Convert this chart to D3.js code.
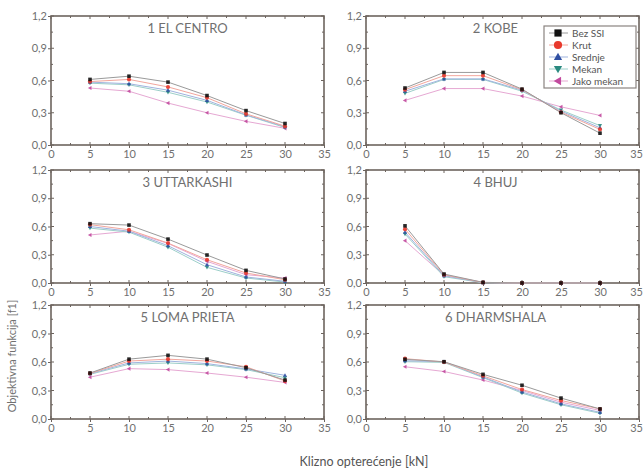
<!DOCTYPE html>
<html>
<head>
<meta charset="utf-8">
<script src="https://cdn.jsdelivr.net/npm/d3@7"></script>
<style>
  html, body { margin: 0; padding: 0; background: #fff; }
  svg { display: block; font-family: Lato, "Open Sans", sans-serif; }
</style>
</head>
<body>
<svg id="chart" width="643" height="471"></svg>
<script>
// Sliding load values (kN)
const loads = [5, 10, 15, 20, 25, 30];

// Soil-structure interaction cases
const seriesNames = ["Bez SSI", "Krut", "Srednje", "Mekan", "Jako mekan"];

// Earthquake records, one panel each
const quakes = ["1 EL CENTRO", "2 KOBE", "3 UTTARKASHI", "4 BHUJ", "5 LOMA PRIETA", "6 DHARMSHALA"];

// Objective function f1 per earthquake, per series (order of seriesNames)
const elCentro = [
  [0.61, 0.64, 0.585, 0.46, 0.32, 0.20],
  [0.59, 0.61, 0.54, 0.44, 0.29, 0.175],
  [0.585, 0.57, 0.51, 0.415, 0.28, 0.17],
  [0.575, 0.56, 0.49, 0.40, 0.277, 0.163],
  [0.53, 0.50, 0.39, 0.30, 0.22, 0.155]
];
const kobe = [
  [0.53, 0.675, 0.675, 0.52, 0.30, 0.11],
  [0.515, 0.645, 0.645, 0.515, 0.305, 0.145],
  [0.50, 0.615, 0.615, 0.51, 0.315, 0.16],
  [0.48, 0.61, 0.61, 0.50, 0.325, 0.18],
  [0.415, 0.525, 0.525, 0.455, 0.355, 0.275]
];
const uttarkashi = [
  [0.63, 0.615, 0.466, 0.297, 0.134, 0.042],
  [0.62, 0.565, 0.424, 0.247, 0.106, 0.035],
  [0.60, 0.55, 0.396, 0.194, 0.064, 0.018],
  [0.583, 0.54, 0.38, 0.166, 0.053, 0.01],
  [0.51, 0.55, 0.42, 0.23, 0.088, 0.053]
];
const bhuj = [
  [0.607, 0.095, 0.007, 0.0, 0.0, 0.0],
  [0.572, 0.088, 0.005, 0.0, 0.0, 0.0],
  [0.54, 0.078, 0.004, 0.0, 0.0, 0.0],
  [0.52, 0.067, 0.003, 0.0, 0.0, 0.0],
  [0.45, 0.08, 0.006, 0.0, 0.0, 0.0]
];
const lomaPrieta = [
  [0.484, 0.63, 0.67, 0.63, 0.54, 0.41],
  [0.48, 0.61, 0.63, 0.61, 0.55, 0.40],
  [0.477, 0.59, 0.61, 0.583, 0.527, 0.46],
  [0.47, 0.576, 0.59, 0.57, 0.52, 0.435],
  [0.44, 0.53, 0.52, 0.484, 0.44, 0.385]
];
const dharmshala = [
  [0.628, 0.603, 0.47, 0.355, 0.22, 0.106],
  [0.635, 0.60, 0.454, 0.31, 0.195, 0.106],
  [0.613, 0.603, 0.443, 0.284, 0.16, 0.07],
  [0.603, 0.596, 0.436, 0.273, 0.15, 0.06],
  [0.55, 0.50, 0.41, 0.30, 0.177, 0.09]
];
const panelValues = [elCentro, kobe, uttarkashi, bhuj, lomaPrieta, dharmshala];

// Axis ticks
const xTicks = [0, 5, 10, 15, 20, 25, 30, 35];
const yTicks = [0, 0.3, 0.6, 0.9, 1.2];

const yLabel = "Objektivna funkcija [f1]";
const xLabel = "Klizno opterećenje [kN]";

// Series styling
const markerColors = ["#111111", "#e8392c", "#2f4fa2", "#2a8a80", "#c24a9e"];
const lineColors   = ["#9a9a9a", "#f2a69d", "#9fb3de", "#9ccfc9", "#e6a8d3"];
const markerShapes = ["square", "circle", "up", "down", "left"];

const svg = d3.select("#chart");
const frameColor = "#6d645e";
const textColor = "#707070";
const fmt = d3.formatLocale({ decimal: ",", thousands: ".", grouping: [3], currency: ["", ""] }).format(".1f");

// Panel grid geometry
const cols = [[51, 324], [366, 639]];
const rows = [[16, 145], [170, 283], [305, 419]];
const titleAt = [17.5, 16.6];

function markerPath(shape, size) {
  const s = size;
  switch (shape) {
    case "square": return `M${-s},${-s}H${s}V${s}H${-s}Z`;
    case "circle": return d3.symbol(d3.symbolCircle, Math.PI * s * s * 1.3)();
    case "up":     return `M0,${-s * 1.2}L${s * 1.15},${s * 0.85}L${-s * 1.15},${s * 0.85}Z`;
    case "down":   return `M0,${s * 1.2}L${s * 1.15},${-s * 0.85}L${-s * 1.15},${-s * 0.85}Z`;
    case "left":   return `M${-s * 1.2},0L${s * 0.85},${-s * 1.15}L${s * 0.85},${s * 1.15}Z`;
  }
}

panelValues.forEach((vals, i) => {
  const col = i % 2, row = Math.floor(i / 2);
  const x = d3.scaleLinear().domain([0, 35]).range(cols[col]);
  const y = d3.scaleLinear().domain([0, 1.2]).range([rows[row][1], rows[row][0]]);
  const g = svg.append("g");

  // Minor inward ticks on all four sides
  const minorX = d3.range(0, 35.01, 2.5);
  const minorY = d3.range(0, 1.201, 0.15);
  const ticks = g.append("g").attr("stroke", frameColor).attr("stroke-width", 1);
  minorX.forEach(v => {
    const len = (v % 5 === 0) ? 3 : 2;
    ticks.append("line").attr("x1", x(v)).attr("x2", x(v)).attr("y1", y(0)).attr("y2", y(0) - len);
    ticks.append("line").attr("x1", x(v)).attr("x2", x(v)).attr("y1", y(1.2)).attr("y2", y(1.2) + len);
  });
  minorY.forEach((v, k) => {
    const len = (k % 2 === 0) ? 3 : 2;
    ticks.append("line").attr("x1", x(0)).attr("x2", x(0) + len).attr("y1", y(v)).attr("y2", y(v));
    ticks.append("line").attr("x1", x(35)).attr("x2", x(35) - len).attr("y1", y(v)).attr("y2", y(v));
  });

  // Axes with outward major ticks
  const ax = g.append("g").attr("transform", `translate(0,${y(0)})`)
    .call(d3.axisBottom(x).tickValues(xTicks).tickSize(3).tickPadding(2).tickFormat(d3.format("d")));
  const ay = g.append("g").attr("transform", `translate(${x(0)},0)`)
    .call(d3.axisLeft(y).tickValues(yTicks).tickSize(3).tickPadding(1).tickFormat(fmt));
  [ax, ay].forEach(a => {
    a.select(".domain").remove();
    a.selectAll(".tick line").attr("stroke", frameColor);
    a.selectAll(".tick text").attr("fill", textColor).style("font-size", "11px")
      .style("font-family", "Lato, sans-serif");
  });
  // keep the last x label inside the right edge
  if (col === 1) {
    ax.selectAll(".tick text").filter(d => d === 35).attr("dx", "-3");
  }

  // Frame
  g.append("rect")
    .attr("x", x(0)).attr("y", y(1.2))
    .attr("width", x(35) - x(0)).attr("height", y(0) - y(1.2))
    .attr("fill", "none").attr("stroke", frameColor).attr("stroke-width", 1.6);

  // Title
  g.append("text")
    .attr("x", x(titleAt[col])).attr("y", y(1.2) + 17)
    .attr("text-anchor", "middle")
    .attr("fill", textColor)
    .style("font-size", "13px")
    .text(quakes[i]);

  // Lines then markers, drawing the softest series first
  const line = d3.line().x((d, k) => x(loads[k])).y(d => y(d));
  for (let s = seriesNames.length - 1; s >= 0; s--) {
    g.append("path").datum(vals[s])
      .attr("d", line)
      .attr("fill", "none")
      .attr("stroke", lineColors[s])
      .attr("stroke-width", 1);
  }
  for (let s = seriesNames.length - 1; s >= 0; s--) {
    g.selectAll(null).data(vals[s]).enter().append("path")
      .attr("transform", (d, k) => `translate(${x(loads[k])},${y(d)})`)
      .attr("d", markerPath(markerShapes[s], 1.8))
      .attr("fill", markerColors[s])
      .attr("opacity", 0.9);
  }

  // Legend inside the KOBE panel
  if (i === 1) {
    const lg = g.append("g");
    lg.append("rect").attr("x", 544).attr("y", 26).attr("width", 92).attr("height", 62)
      .attr("fill", "#fff").attr("stroke", "#8a8480").attr("stroke-width", 1.2);
    seriesNames.forEach((name, s) => {
      const ly = 33 + s * 12;
      lg.append("line").attr("x1", 549).attr("x2", 568).attr("y1", ly).attr("y2", ly)
        .attr("stroke", lineColors[s]).attr("stroke-width", 1);
      lg.append("path").attr("transform", `translate(558,${ly})`)
        .attr("d", markerPath(markerShapes[s], 3.6)).attr("fill", markerColors[s]);
      lg.append("text").attr("x", 572).attr("y", ly + 3.5)
        .attr("fill", "#555").style("font-size", "10px").text(name);
    });
  }
});

// Shared axis titles
svg.append("text")
  .attr("transform", "translate(16,356) rotate(-90)")
  .attr("text-anchor", "middle")
  .attr("fill", textColor)
  .style("font-size", "11px")
  .text(yLabel);

svg.append("text")
  .attr("x", 364).attr("y", 466)
  .attr("text-anchor", "middle")
  .attr("fill", "#555")
  .style("font-size", "12.5px")
  .text(xLabel);
</script>
</body>
</html>
